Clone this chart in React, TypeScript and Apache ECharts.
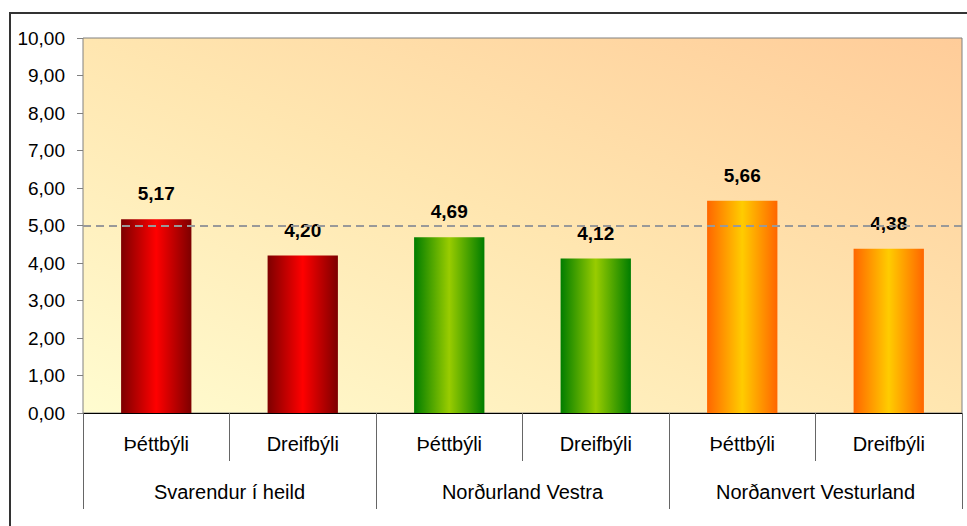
import React, { useEffect, useRef } from "react";
import * as echarts from "echarts";

const subCategories = ["Þéttbýli", "Dreifbýli", "Þéttbýli", "Dreifbýli", "Þéttbýli", "Dreifbýli"];
const groups = ["Svarendur í heild", "Norðurland Vestra", "Norðanvert Vesturland"];
const values = [5.17, 4.2, 4.69, 4.12, 5.66, 4.38];
const referenceValue = 5;
const yTicks = [0, 1, 2, 3, 4, 5, 6, 7, 8, 9, 10];

const groupColors: [string, string][] = [
  ["#7d0000", "#ff0000"],
  ["#007d00", "#99cc00"],
  ["#ff6600", "#ffcc00"],
];

const fmt = (v: number) => v.toFixed(2).replace(".", ",");
const FONT = "'Liberation Sans', Arial, sans-serif";

export default function App() {
  const ref = useRef<HTMLDivElement>(null);
  useEffect(() => {
    if (!ref.current) return;
    const chart = echarts.init(ref.current, null, { renderer: "svg" });
    const data = values.map((v, i) => {
      const [edge, mid] = groupColors[Math.floor(i / 2)];
      return {
        value: v,
        itemStyle: {
          color: {
            type: "linear",
            x: 0,
            y: 0,
            x2: 1,
            y2: 0,
            colorStops: [
              { offset: 0, color: edge },
              { offset: 0.5, color: mid },
              { offset: 1, color: edge },
            ],
          },
        },
      };
    });
    chart.setOption({
      animation: false,
      backgroundColor: "#ffffff",
      textStyle: { fontFamily: FONT },
      graphic: [
        {
          type: "rect",
          shape: { x: 10, y: 13, width: 1000, height: 600 },
          style: { fill: "none", stroke: "#333333", lineWidth: 2 },
          silent: true,
          z: 100,
        },
      ],
      grid: {
        left: 83,
        top: 38,
        right: 5,
        bottom: 113,
        show: true,
        borderColor: "#808080",
        borderWidth: 1,
        backgroundColor: {
          type: "linear",
          x: 0,
          y: 1,
          x2: 1,
          y2: 0,
          colorStops: [
            { offset: 0, color: "#fffcd0" },
            { offset: 0.5, color: "#ffe6b0" },
            { offset: 1, color: "#ffcc99" },
          ],
        },
      },
      xAxis: [
        {
          type: "category",
          data: subCategories,
          position: "bottom",
          axisLine: { show: true, lineStyle: { color: "#000000", width: 1 } },
          axisTick: {
            show: true,
            interval: 0,
            alignWithLabel: false,
            length: 48,
            lineStyle: { color: "#666666" },
          },
          axisLabel: {
            interval: 0,
            margin: 21,
            fontSize: 20,
            color: "#000000",
            fontFamily: FONT,
          },
        },
        {
          type: "category",
          data: groups,
          position: "bottom",
          offset: 0,
          axisLine: { show: false },
          axisTick: {
            show: true,
            interval: 0,
            alignWithLabel: false,
            length: 96,
            lineStyle: { color: "#666666" },
          },
          axisLabel: {
            interval: 0,
            margin: 69,
            fontSize: 20,
            color: "#000000",
            fontFamily: FONT,
          },
        },
      ],
      yAxis: {
        type: "value",
        min: yTicks[0],
        max: yTicks[yTicks.length - 1],
        interval: 1,
        axisLine: { show: false },
        axisTick: { show: true, length: 6, lineStyle: { color: "#808080" } },
        splitLine: { show: false },
        axisLabel: {
          margin: 18,
          fontSize: 19,
          color: "#000000",
          fontFamily: FONT,
          formatter: (v: number) => fmt(v),
        },
      },
      series: [
        {
          type: "bar",
          xAxisIndex: 0,
          data,
          barWidth: "48%",
          label: {
            show: true,
            position: "top",
            distance: 16,
            fontSize: 19,
            fontWeight: "bold",
            color: "#000000",
            fontFamily: FONT,
            formatter: (p: any) => fmt(p.value),
          },
          markLine: {
            silent: true,
            symbol: "none",
            label: { show: false },
            lineStyle: { color: "#999999", type: [8, 5], width: 2 },
            data: [{ yAxis: referenceValue }],
          },
        },
      ],
    });
    return () => chart.dispose();
  }, []);
  return (
    <div
      ref={ref}
      style={{ position: "fixed", left: 0, top: 0, width: 967, height: 526 }}
    />
  );
}
